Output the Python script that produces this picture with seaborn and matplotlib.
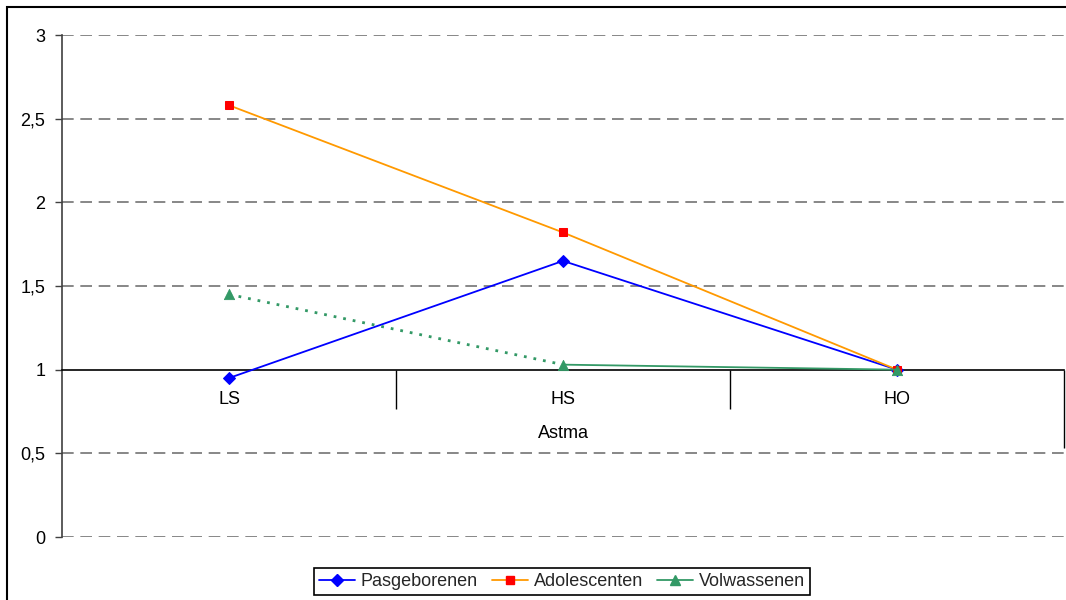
import matplotlib
matplotlib.use("Agg")
import matplotlib.pyplot as plt
from matplotlib.patches import Rectangle
from matplotlib.lines import Line2D
from matplotlib.transforms import blended_transform_factory
import seaborn as sns
import pandas as pd

categories = ["LS", "HS", "HO"]
pasgeborenen = [0.95, 1.65, 1.0]
adolescenten = [2.58, 1.82, 1.0]
volwassenen = [1.45, 1.03, 1.0]
series_names = ["Pasgeborenen", "Adolescenten", "Volwassenen"]
y_ticks = [0, 0.5, 1, 1.5, 2, 2.5, 3]
y_labels = ["0", "0,5", "1", "1,5", "2", "2,5", "3"]
x_title = "Astma"

sns.set_theme(style="white")
plt.rcParams["font.family"] = ["Liberation Sans", "DejaVu Sans"]

FS = 13

fig = plt.figure(figsize=(10.66, 6.0), dpi=100)
ax = fig.add_axes([62/1066, 1-537/600, (1064-62)/1066, (537-35)/600])

pos = list(range(len(categories)))
df_p = pd.DataFrame({"x": pos, "y": pasgeborenen})
df_a = pd.DataFrame({"x": pos, "y": adolescenten})
df_v = pd.DataFrame({"x": pos, "y": volwassenen})

blue = "#0000FF"
orange = "#FF9900"
red = "#FF0000"
green = "#339966"

# gridlines
for yv in y_ticks:
    if yv != 1:
        ax.axhline(yv, color="#737373", lw=1.2, ls=(0, (7, 4)), zorder=0)

sns.lineplot(data=df_p, x="x", y="y", ax=ax, color=blue, lw=1.3, marker="D",
             markersize=6, markeredgecolor=blue, markerfacecolor=blue, zorder=3)
sns.lineplot(data=df_a, x="x", y="y", ax=ax, color=orange, lw=1.3, marker="s",
             markersize=6, markeredgecolor=red, markerfacecolor=red, zorder=3)
sns.lineplot(data=df_v.iloc[:2], x="x", y="y", ax=ax, color=green, lw=2.0,
             ls=(0, (1, 2.5)), zorder=3)
sns.lineplot(data=df_v.iloc[1:], x="x", y="y", ax=ax, color=green, lw=1.3, zorder=3)
sns.scatterplot(data=df_v, x="x", y="y", ax=ax, color=green, marker="^", s=55,
                edgecolor=green, zorder=4)

ax.set_xlim(-0.5, len(categories) - 0.5)
ax.set_ylim(0, 3)
ax.set_xlabel("")
ax.set_ylabel("")

# spines
ax.spines["top"].set_visible(False)
ax.spines["right"].set_visible(False)
ax.spines["left"].set_color("#404040")
ax.spines["left"].set_linewidth(1.2)
ax.spines["bottom"].set_position(("data", 1))
ax.spines["bottom"].set_color("black")
ax.spines["bottom"].set_linewidth(1.2)

ax.set_yticks(y_ticks)
ax.set_yticklabels(y_labels, fontsize=FS, color="black")
ax.tick_params(axis="y", direction="out", length=5, width=1, color="#404040", left=True, pad=7)

# x ticks: boundaries as major ticks, category labels as minor ticks
bounds = [p + 0.5 for p in pos]
ax.set_xticks(bounds)
ax.set_xticklabels([""] * len(bounds))
ax.set_xticks(pos, minor=True)
ax.set_xticklabels(categories, minor=True, fontsize=FS, color="black")
ax.tick_params(axis="x", which="major", direction="out", length=28, width=1, color="black", bottom=True)
ax.tick_params(axis="x", which="minor", length=0, pad=15)
ax.xaxis.get_major_ticks()[-1].tick1line.set_markersize(56)

trans = blended_transform_factory(ax.transData, ax.transAxes)
ax.text(1, (537-433)/502, x_title, transform=trans, ha="center", va="center", fontsize=FS, color="black")

# legend
handles = [
    Line2D([], [], color=blue, lw=1.3, marker="D", markersize=6, markerfacecolor=blue, markeredgecolor=blue),
    Line2D([], [], color=orange, lw=1.3, marker="s", markersize=6, markerfacecolor=red, markeredgecolor=red),
    Line2D([], [], color=green, lw=1.3, marker="^", markersize=7, markerfacecolor=green, markeredgecolor=green),
]
leg = fig.legend(handles, series_names, loc="center", bbox_to_anchor=(562/1066, 1-581.5/600),
                 ncol=3, frameon=True, fancybox=False, edgecolor="black", framealpha=1,
                 fontsize=FS, handlelength=2.0, handletextpad=0.3, columnspacing=0.8,
                 borderpad=0.25, borderaxespad=0)
leg.get_frame().set_linewidth(1.2)

# outer border
fig.patches.append(Rectangle((7/1066, -0.1), 1.5, 1.1 - 7/600, transform=fig.transFigure,
                             fill=False, edgecolor="black", lw=1.5))

fig.savefig("out.png", dpi=100)
